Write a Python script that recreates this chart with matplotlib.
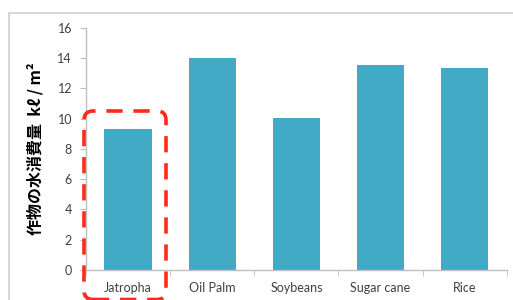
import matplotlib
matplotlib.use("Agg")
import matplotlib.pyplot as plt
from matplotlib.patches import FancyBboxPatch, Rectangle
from matplotlib.transforms import IdentityTransform
import numpy as np

# Water consumption per crop (kl / m2)
crops = ["Jatropha", "Oil Palm", "Soybeans", "Sugar cane", "Rice"]
water_use = [9.33, 14.0, 10.05, 13.57, 13.37]
y_ticks = [0, 2, 4, 6, 8, 10, 12, 14, 16]
y_label = "作物の水消費量  kℓ / m²"

bar_color = "#43AAC6"
axis_color = "#BFBFBF"
text_color = "#404040"

plt.rcParams['font.family'] = ['Lato', 'DejaVu Sans']

fig = plt.figure(figsize=(5.13, 3.0), dpi=100)
ax = fig.add_axes([0.1676, 0.1, 0.8204, 0.8067])

x = np.arange(len(crops))
ax.bar(x, water_use, width=0.56, color=bar_color, zorder=2)

ax.set_xlim(-0.5, len(crops) - 0.5)
ax.set_ylim(0, 16)
ax.set_yticks(y_ticks)
ax.set_yticklabels([str(t) for t in y_ticks], fontsize=9, color=text_color)

# category labels centred, tick marks on category boundaries
ax.set_xticks(x)
ax.set_xticklabels(crops, fontsize=9, color=text_color)
ax.tick_params(axis='x', which='major', length=0, pad=9)
ax.set_xticks(np.arange(-0.5, len(crops)), minor=True)
ax.tick_params(axis='x', which='minor', length=4, color=axis_color, direction='out')
ax.tick_params(axis='y', length=4, color=axis_color, direction='out', pad=6)

for side in ["top", "right"]:
    ax.spines[side].set_visible(False)
for side in ["left", "bottom"]:
    ax.spines[side].set_color(axis_color)
    ax.spines[side].set_linewidth(1)

ax.set_ylabel(y_label, fontsize=11.5, fontweight='bold', color='black',
              family=['Noto Sans CJK JP', 'DejaVu Sans'], labelpad=10)

# outer frame of the original slide/chart
fig.patches.append(Rectangle((9 / 513, -0.05), 1.1, 0.958 + 0.05, transform=fig.transFigure,
                             fill=False, edgecolor="#D0D0D0", linewidth=1.2, figure=fig))

# red dashed highlight around Jatropha (pixel coordinates, bottom edge runs off the image)
box = FancyBboxPatch((84, 0.5), 82, 188.5, boxstyle="round,pad=0,rounding_size=9",
                     transform=IdentityTransform(), fill=False, edgecolor="#FF2A1A",
                     linewidth=2.6, linestyle=(0, (4.5, 3)), clip_on=False, zorder=5)
fig.patches.append(box)

plt.savefig("out.png", dpi=100)
